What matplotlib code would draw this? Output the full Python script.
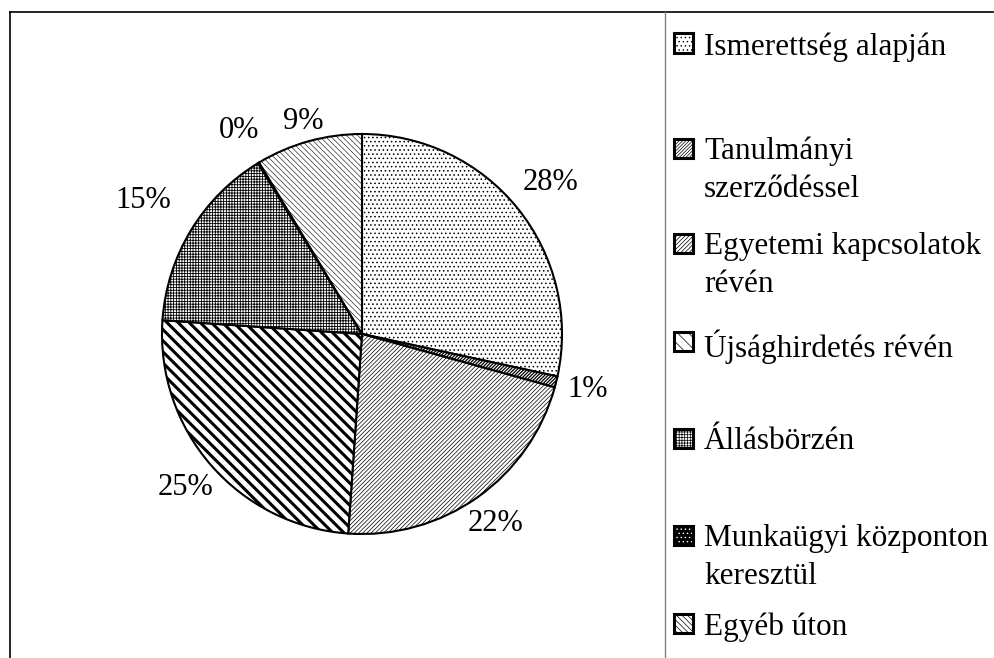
import numpy as np
import matplotlib
matplotlib.use("Agg")
import matplotlib.pyplot as plt
from matplotlib.patches import Rectangle
from matplotlib.lines import Line2D

plt.rcParams['font.family'] = ['Liberation Serif', 'DejaVu Serif']
plt.rcParams['hatch.linewidth'] = 0.6

categories = ["Ismerettség alapján", "Tanulmányi\nszerződéssel",
              "Egyetemi kapcsolatok\nrévén", "Újsághirdetés révén",
              "Állásbörzén", "Munkaügyi központon\nkeresztül", "Egyéb úton"]
values = [28.4, 0.9, 21.8, 25.0, 15.2, 0.1, 8.6]

hatches = ['....', '//////////', '////////', '\\\\\\', '++++++', '....', '\\\\\\\\\\\\']
faces = ['white', 'white', 'white', 'white', 'white', 'black', 'white']
hatch_lw = [0.6, 0.9, 0.5, 2.2, 0.6, 0.6, 0.4]
label_dist = [1.21, 1.16, 1.16, 1.17, 1.28, 1.19, 1.10]

W, H = 994, 658
fig = plt.figure(figsize=(W / 100, H / 100), dpi=100)

# frame lines
fig.add_artist(Line2D([9.5 / W, 993 / W], [1 - 11.5 / H, 1 - 11.5 / H], color='black', lw=1.2))
fig.add_artist(Line2D([9.5 / W, 9.5 / W], [0, 1 - 11.5 / H], color='black', lw=1.2))
fig.add_artist(Line2D([665 / W, 665 / W], [0, 1 - 11.5 / H], color='#808080', lw=1.0))

cx, cy, r = 362, 334, 200
ax = fig.add_axes([(cx - r) / W, (H - cy - r) / H, 2 * r / W, 2 * r / H])
wedges, texts, autotexts = ax.pie(values, startangle=90, counterclock=False,
                                  autopct='%.0f%%', pctdistance=1.17,
                                  wedgeprops=dict(edgecolor='black', linewidth=1.5),
                                  textprops=dict(fontsize=22))
for i, w in enumerate(wedges):
    w.set_facecolor(faces[i])
    w.set_hatch(hatches[i])
    if hasattr(w, 'set_hatch_linewidth'):
        w.set_hatch_linewidth(hatch_lw[i])
    mid = np.deg2rad((w.theta1 + w.theta2) / 2)
    autotexts[i].set_position((label_dist[i] * np.cos(mid), label_dist[i] * np.sin(mid)))
    autotexts[i].set_color('black')
ax.set_xlim(-1, 1)
ax.set_ylim(-1, 1)
ax.set_aspect('equal')
ax.axis('off')

# legend drawn by hand to keep the marker on the first text line
legend_y = [45, 150, 245, 343, 440, 537, 625]
box = 19
for i, lab in enumerate(categories):
    y = legend_y[i]
    x0, y0 = 674 / W, 1 - (y - 2 + box / 2) / H
    rect = Rectangle((x0, y0), box / W, box / H,
                     transform=fig.transFigure, facecolor=faces[i],
                     edgecolor='white' if faces[i] == 'black' else 'black',
                     hatch=hatches[i], linewidth=0)
    if hasattr(rect, 'set_hatch_linewidth'):
        rect.set_hatch_linewidth(0.5)
    fig.add_artist(rect)
    fig.add_artist(Rectangle((x0, y0), box / W, box / H,
                             transform=fig.transFigure, facecolor='none',
                             edgecolor='black', linewidth=2.2))
    fig.text(704 / W, 1 - (y - 13) / H, lab, fontsize=22.5, ha='left', va='top',
             linespacing=1.4)

fig.savefig("out.png", dpi=100)
